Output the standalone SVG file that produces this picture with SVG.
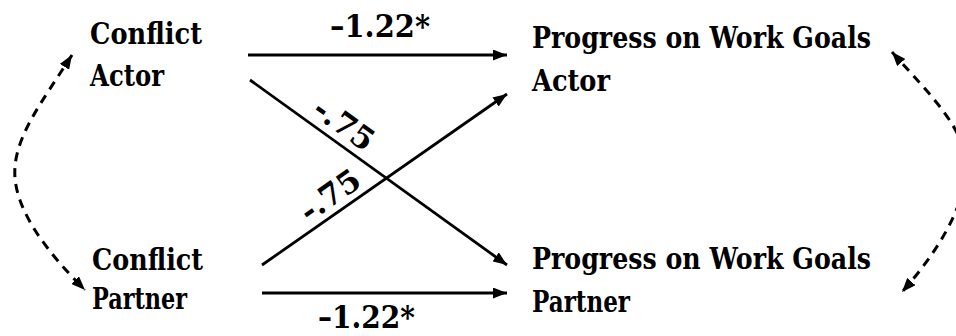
<svg xmlns="http://www.w3.org/2000/svg" width="956" height="336" viewBox="0 0 956 336">
<style>
.t{font-family:"DejaVu Serif","Liberation Serif",serif;font-weight:bold;font-size:29px;fill:#000}
.c{font-family:"DejaVu Serif","Liberation Serif",serif;font-weight:bold;font-size:31px;fill:#000}
.e{fill:none;stroke:#000;stroke-width:2.8}
.d{fill:none;stroke:#000;stroke-width:3;stroke-dasharray:9 7}
</style>
<defs>
<marker id="ah" markerUnits="userSpaceOnUse" markerWidth="14" markerHeight="11" refX="14" refY="5.5" orient="auto-start-reverse">
<path d="M0,0 L14,5.5 L0,11 z" fill="#000"/>
</marker>
</defs>
<rect width="956" height="336" fill="#fff"/>
<g id="conflict-actor"><text class="t" x="90" y="44" textLength="112" lengthAdjust="spacingAndGlyphs">Conflict</text><text class="t" x="90" y="86" textLength="74" lengthAdjust="spacingAndGlyphs">Actor</text></g>
<g id="conflict-partner"><text class="t" x="92" y="270" textLength="111" lengthAdjust="spacingAndGlyphs">Conflict</text><text class="t" x="92" y="309" textLength="95" lengthAdjust="spacingAndGlyphs">Partner</text></g>
<g id="progress-actor"><text class="t" x="532" y="48" textLength="339" lengthAdjust="spacingAndGlyphs">Progress on Work Goals</text><text class="t" x="532" y="91" textLength="78" lengthAdjust="spacingAndGlyphs">Actor</text></g>
<g id="progress-partner"><text class="t" x="532" y="269" textLength="339" lengthAdjust="spacingAndGlyphs">Progress on Work Goals</text><text class="t" x="532" y="312" textLength="98" lengthAdjust="spacingAndGlyphs">Partner</text></g>
<g id="connectors">
<path class="e" d="M248 55 L507 55" marker-end="url(#ah)"/>
<path class="e" d="M250 80 L507 265" marker-end="url(#ah)"/>
<path class="e" d="M262 265 L507 94" marker-end="url(#ah)"/>
<path class="e" d="M262 293 L507 293" marker-end="url(#ah)"/>
<path class="d" d="M72 55 C40 105 12 140 15 178 C18 215 50 255 85 290" marker-start="url(#ah)" marker-end="url(#ah)"/>
<path class="d" d="M892 52 C930 95 968 130 966 170 C964 210 935 255 902 292" marker-start="url(#ah)" marker-end="url(#ah)"/>
<text class="c" x="330" y="37" textLength="100" lengthAdjust="spacingAndGlyphs">–1.22*</text>
<text class="c" x="318" y="328" textLength="97" lengthAdjust="spacingAndGlyphs">–1.22*</text>
<text class="c" text-anchor="middle" transform="translate(338,133) rotate(35.7)">-.75</text>
<text class="c" text-anchor="middle" transform="translate(336,204) rotate(-35)">-.75</text>
</g>
</svg>
